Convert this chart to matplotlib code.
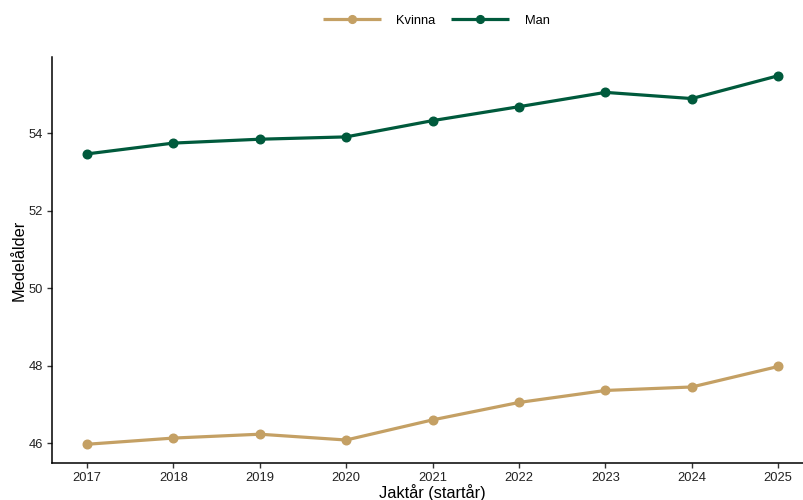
import matplotlib
matplotlib.use("Agg")
import matplotlib.pyplot as plt

plt.rcParams['font.family'] = ['Liberation Sans', 'DejaVu Sans']

years = [2017, 2018, 2019, 2020, 2021, 2022, 2023, 2024, 2025]
kvinna = [45.97, 46.13, 46.23, 46.08, 46.60, 47.05, 47.36, 47.45, 47.98]
man = [53.47, 53.75, 53.85, 53.91, 54.33, 54.69, 55.06, 54.90, 55.49]
series_names = ["Kvinna", "Man"]
colors = ["#C4A064", "#005A3C"]
yticks = [46, 48, 50, 52, 54]

fig = plt.figure(figsize=(8.04, 5.0), dpi=100)
ax = fig.add_axes([52.3/804, (500-462.7)/500, (812.8-52.3)/804, (462.7-57.3)/500])

for vals, name, c in zip([kvinna, man], series_names, colors):
    ax.plot(years, vals, color=c, lw=2.3, marker='o', ms=6.2, label=name,
            solid_capstyle='butt', clip_on=False)

lo = min(kvinna + man); hi = max(kvinna + man)
pad = (hi - lo) * 0.05
ax.set_ylim(lo - pad, hi + pad)
ax.set_xlim(years[0] - 0.4, years[-1] + 0.4)
ax.set_xticks(years)
ax.set_xticklabels([str(y) for y in years])
ax.set_yticks(yticks)

for s in ['top', 'right']:
    ax.spines[s].set_visible(False)
for s in ['left', 'bottom']:
    ax.spines[s].set_linewidth(1.1)
    ax.spines[s].set_color('#000000')
ax.tick_params(axis='both', direction='out', length=3.5, width=1.0, color='#333333',
               labelsize=9.3, labelcolor='#222222', pad=3)

ax.set_xlabel("Jaktår (startår)", fontsize=11.8, labelpad=0.5)
ax.set_ylabel("Medelålder", fontsize=11.8, labelpad=1.5)

handles, labels = ax.get_legend_handles_labels()
fig.legend(handles, labels, loc='center', bbox_to_anchor=(436/804, 1 - 20.5/500), ncol=2,
           frameon=False, fontsize=9.3, handlelength=4.5, columnspacing=1.2,
           handletextpad=1.2, markerscale=0.9)

fig.savefig("out.png", dpi=100)
